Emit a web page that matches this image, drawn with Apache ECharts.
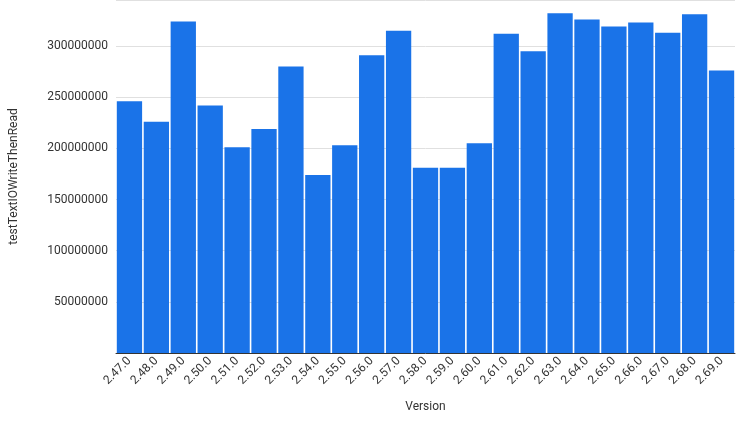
<!DOCTYPE html>
<html>
<head>
<meta charset="utf-8">
<script src="https://cdn.jsdelivr.net/npm/echarts@6/dist/echarts.min.js"></script>
<style>html,body{margin:0;padding:0;background:#fff}#chart{width:745px;height:429px}</style>
</head>
<body>
<div id="chart"></div>
<script>
const versions = ['2.47.0','2.48.0','2.49.0','2.50.0','2.51.0','2.52.0','2.53.0','2.54.0','2.55.0','2.56.0','2.57.0','2.58.0','2.59.0','2.60.0','2.61.0','2.62.0','2.63.0','2.64.0','2.65.0','2.66.0','2.67.0','2.68.0','2.69.0']
const values = [246000000,226000000,324000000,242000000,201000000,219000000,280000000,174000000,203000000,291000000,315000000,181000000,181000000,205000000,312000000,295000000,332000000,326000000,319000000,323000000,313000000,331000000,276000000]

let chart = echarts.init(document.getElementById('chart'))
chart.setOption({
  backgroundColor: '#fff',
  textStyle: { fontFamily: 'Roboto' },
  grid: { left: 113, right: 10, top: 0, bottom: 76 },
  xAxis: {
    type: 'category',
    data: versions,
    name: 'Version',
    nameLocation: 'middle',
    nameGap: 48,
    nameTextStyle: { color: '#333', fontSize: 12 },
    axisTick: { show: false },
    axisLine: { lineStyle: { color: '#333' } },
    axisLabel: { rotate: 45, color: '#333', fontSize: 12, interval: 0, margin: 6 }
  },
  yAxis: {
    type: 'value',
    min: 0,
    max: 345000000,
    interval: 50000000,
    name: 'testTextIOWriteThenRead',
    nameLocation: 'middle',
    nameGap: 96,
    nameTextStyle: { color: '#333', fontSize: 12 },
    axisLabel: {
      color: '#333', fontSize: 12,
      formatter: v => (v === 0 || v > 340000000) ? '' : String(v)
    },
    splitLine: { lineStyle: { color: '#e0e0e0' } }
  },
  series: [{
    type: 'bar',
    data: values,
    barCategoryGap: '6%',
    itemStyle: { color: '#1a73e8' }
  }]
})
</script>
</body>
</html>
